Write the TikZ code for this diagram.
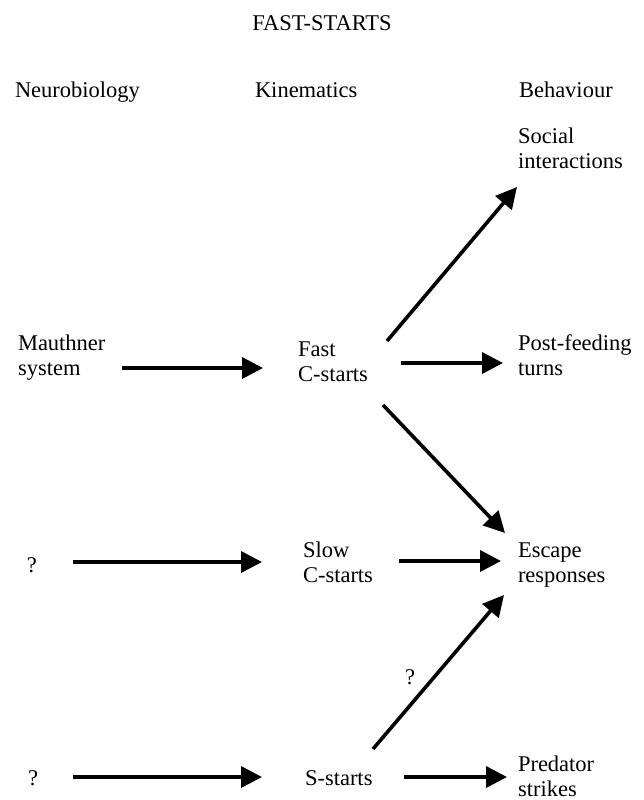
\documentclass[tikz,border=0pt]{standalone}
\usepackage{fontspec}
\setmainfont{Liberation Serif}
\usetikzlibrary{arrows.meta}
\begin{document}
\begin{tikzpicture}[x=1pt,y=-1pt,
  lbl/.style={inner sep=0pt, outer sep=0pt, align=left, anchor=north west,
    font=\fontsize{22.5}{25.5}\selectfont},
  one/.style={inner sep=0pt, outer sep=0pt, anchor=base west,
    font=\fontsize{22.5}{25.5}\selectfont},
  arr/.style={line width=3.6pt, -{Triangle[length=21pt,width=21pt]}}]
\useasboundingbox (0,0) rectangle (644,800);
% titles
\node[one, anchor=base] (title) at (322,31) {FAST-STARTS};
\node[one] (hneu) at (15,97) {Neurobiology};
\node[one] (hkin) at (255,97) {Kinematics};
\node[one] (hbeh) at (519,97) {Behaviour};
% nodes
\node[lbl] (soc) at (518,127.6) {Social\\interactions};
\node[lbl] (maut) at (18,334.6) {Mauthner\\system};
\node[lbl] (fast) at (298,341.6) {Fast\\C-starts};
\node[lbl] (post) at (518,334.6) {Post-feeding\\turns};
\node[one] (q1) at (27,572) {?};
\node[lbl] (slow) at (303,541.6) {Slow\\C-starts};
\node[lbl] (esc) at (518,542.6) {Escape\\responses};
\node[one] (qm) at (405,684) {?};
\node[one] (q2) at (28,785) {?};
\node[one] (sst) at (305,785) {S-starts};
\node[lbl] (pred) at (518,755.6) {Predator\\strikes};
% connectors
\draw[arr] ([shift={(104,33.4)}]maut.north west) -- ([shift={(-35,26.4)}]fast.north west);
\draw[arr] ([shift={(89,-0.6)}]fast.north west) -- ([shift={(-1,59.4)}]soc.north west);
\draw[arr] ([shift={(103,21.4)}]fast.north west) -- ([shift={(-15,28.4)}]post.north west);
\draw[arr] ([shift={(85,63.4)}]fast.north west) -- ([shift={(-13,-9.6)}]esc.north west);
\draw[arr] ([shift={(46,-10)}]q1.base west) -- ([shift={(-41,20.4)}]slow.north west);
\draw[arr] ([shift={(96,19.4)}]slow.north west) -- ([shift={(-17,18.4)}]esc.north west);
\draw[arr] ([shift={(68,-36)}]sst.base west) -- ([shift={(-14,52.4)}]esc.north west);
\draw[arr] ([shift={(45,-8)}]q2.base west) -- ([shift={(-43,-8)}]sst.base west);
\draw[arr] ([shift={(99,-8)}]sst.base west) -- ([shift={(-11,21.4)}]pred.north west);
\end{tikzpicture}
\end{document}
